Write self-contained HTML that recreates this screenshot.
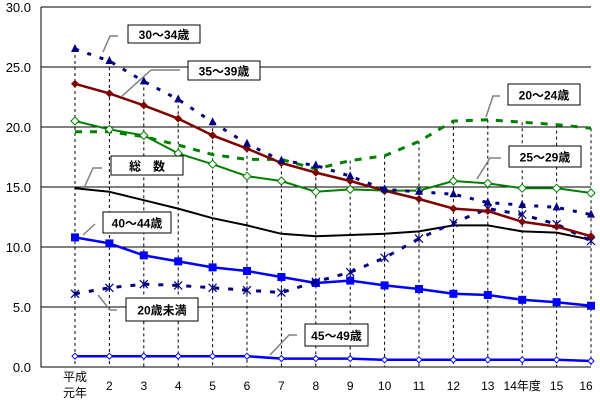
<!DOCTYPE html>
<html><head><meta charset="utf-8"><style>
body{margin:0;background:#fff}
svg{display:block;font-family:"Liberation Sans","Noto Sans CJK JP",sans-serif}
.lbl{font-weight:bold;font-size:12px}
</style></head><body>
<svg id="chart" width="600" height="402" viewBox="0 0 600 402" xmlns="http://www.w3.org/2000/svg"></svg>
<script>
const categories=["元年","2","3","4","5","6","7","8","9","10","11","12","13","14年度","15","16"];
const yTicks=[0,5,10,15,20,25,30];
const s3034=[26.5,25.5,23.8,22.3,20.4,18.6,17.2,16.8,15.9,14.8,14.6,14.4,13.7,13.5,13.3,12.7];
const s3539=[23.6,22.8,21.8,20.7,19.3,18.2,17.0,16.2,15.5,14.7,14.0,13.2,13.0,12.1,11.7,10.9];
const s2024=[19.6,19.6,19.2,18.5,17.7,17.3,17.3,16.5,17.2,17.6,18.8,20.5,20.6,20.4,20.2,19.9];
const s2529=[20.5,19.8,19.3,17.8,16.9,15.9,15.5,14.6,14.8,14.7,14.7,15.5,15.3,14.9,14.9,14.5];
const sTotal=[14.9,14.6,13.9,13.2,12.4,11.8,11.1,10.9,11.0,11.1,11.3,11.8,11.8,11.3,11.2,10.6];
const s4044=[10.8,10.3,9.3,8.8,8.3,8.0,7.5,7.0,7.2,6.8,6.5,6.1,6.0,5.6,5.4,5.1];
const sU20=[6.1,6.6,6.9,6.8,6.6,6.4,6.2,7.1,7.9,9.1,10.7,12.0,13.2,12.7,11.9,10.5];
const s4549=[0.9,0.9,0.9,0.9,0.9,0.9,0.7,0.7,0.7,0.6,0.6,0.6,0.6,0.6,0.6,0.5];

const NS="http://www.w3.org/2000/svg";
const svg=document.getElementById('chart');
const X0=41,X1=591,Y0=367,Y1=7;
const xs=i=>75+i*(591-75)/(categories.length-1);
const ys=v=>Y0-(v/30)*(Y0-Y1);
function el(t,a,p){const e=document.createElementNS(NS,t);for(const k in a)e.setAttribute(k,a[k]);(p||svg).appendChild(e);return e;}

yTicks.forEach(v=>{
  if(v>0){const g=el('line',{x1:X0,x2:X1,y1:ys(v),y2:ys(v),stroke:'#000','stroke-width':1});
  
  }
  const t=el('text',{x:31,y:ys(v)+5,'text-anchor':'end','font-size':13});
  t.textContent=v.toFixed(1);
  
  
});
const all=[s3034,s3539,s2024,s2529,sTotal,s4044,sU20,s4549];
categories.forEach((c,i)=>{
  const mx=Math.max(...all.map(s=>s[i]));
  const d=el('line',{x1:xs(i),x2:xs(i),y1:ys(mx),y2:Y0,stroke:'#000','stroke-dasharray':'3,3','stroke-width':1});
  
  
  if(i===0){
    const a=el('text',{x:xs(i),y:381,'text-anchor':'middle','font-size':12});a.textContent='平成';
    
    
    const b=el('text',{x:xs(i),y:397,'text-anchor':'middle','font-size':12});b.textContent=c;
    
    
  } else {
    const t=el('text',{x:xs(i)-(i===15?5:0),y:390,'text-anchor':'middle','font-size':12});t.textContent=c;
    
    
  }
});
const ax=el('path',{d:`M${X0},${Y1}V${Y0}H${X1}`,fill:'none',stroke:'#000','stroke-width':1});



function series(data,name,color,w,dash,marker){
  const g=el('g',{});
  
  
  const d=data.map((v,i)=>(i?'L':'M')+xs(i)+','+ys(v)).join('');
  const p=el('path',{d,fill:'none',stroke:color,'stroke-width':w,'stroke-dasharray':dash||'none','stroke-linejoin':'round'},g);
  
  
  data.forEach((v,i)=>{
    const x=xs(i),y=ys(v);let m=null;
    if(marker==='tri')m=el('path',{d:`M${x},${y-5}L${x+4},${y+3}L${x-4},${y+3}Z`,fill:color},g);
    else if(marker==='dia')m=el('path',{d:`M${x},${y-4}L${x+4},${y}L${x},${y+4}L${x-4},${y}Z`,fill:color},g);
    else if(marker==='odia')m=el('path',{d:`M${x},${y-4}L${x+4},${y}L${x},${y+4}L${x-4},${y}Z`,fill:'#fff',stroke:color,'stroke-width':1},g);
    else if(marker==='odias')m=el('path',{d:`M${x},${y-3}L${x+3},${y}L${x},${y+3}L${x-3},${y}Z`,fill:'#fff',stroke:color,'stroke-width':1},g);
    else if(marker==='sq')m=el('rect',{x:x-4,y:y-4,width:8,height:8,fill:color},g);
    else if(marker==='x')m=el('path',{d:`M${x-4},${y-4}L${x+4},${y+4}M${x+4},${y-4}L${x-4},${y+4}M${x},${y-4}V${y+4}`,stroke:color,'stroke-width':1.2},g);
    if(m){
    }
  });
}
series(sTotal,'series-total','#000',2,null,null);
series(s4549,'series-45-49','#0000ff',2.5,null,'odias');
series(s4044,'series-40-44','#0000ff',2.5,null,'sq');
series(sU20,'series-under-20','#000080',3,'5,9',null);
series(sU20,'series-under-20-markers','#000080',0,'none','x');
series(s2024,'series-20-24','#008000',3,'7,8',null);
series(s2529,'series-25-29','#008000',2,null,'odia');
series(s3539,'series-35-39','#800000',2.5,null,'dia');
series(s3034,'series-30-34','#000080',3,'4,9','tri');

function label(x,y,w,h,txt,lx1,ly1,lx2,ly2,lx3,ly3,name){
  const l=el('polyline',{points:`${lx1},${ly1} ${lx2},${ly2} ${lx3},${ly3}`,fill:'none',stroke:'#808080','stroke-width':1.5});
  
  
  const r=el('rect',{x,y,width:w,height:h,fill:'#fff',stroke:'#000','stroke-width':1});
  
  
  const t=el('text',{x:x+w/2,y:y+h/2+5,'text-anchor':'middle',class:'lbl'});
  t.textContent=txt;
  
  
}
label(128,25,72,18,'30～34歳',103,52,110,36,118,36,'label-30-34');
label(188,61,72,19,'35～39歳',121,97,151,70,180,70,'label-35-39');
label(508,84,72,21,'20～24歳',486,117,493,96,500,96,'label-20-24');
label(509,146,72,21,'25～29歳',477,179,490,158,501,158,'label-25-29');
label(111,156,72,19,'総　数',84,188,93,168,102,168,'label-total');
label(103,212,68,21,'40～44歳',83,235,95,224,95,224,'label-40-44');
label(126,298,72,23,'20歳未満',98,295,110,310,117,310,'label-under-20');
label(305,324,63,22,'45～49歳',270,355,289,335,297,335,'label-45-49');
</script>
</body></html>
